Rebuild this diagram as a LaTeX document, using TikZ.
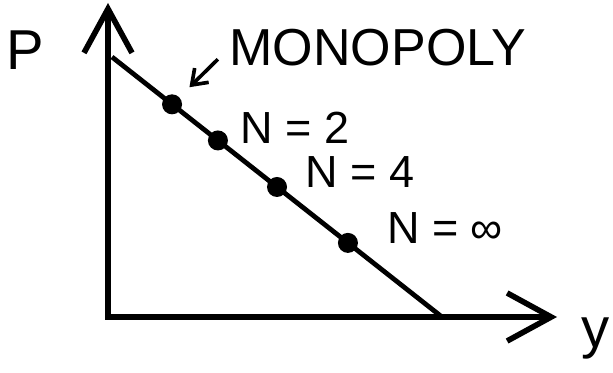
\documentclass[tikz,border=0pt]{standalone}
\usepackage{fontspec}
\setmainfont{Liberation Sans}
\usetikzlibrary{arrows.meta, positioning}

\begin{document}
\begin{tikzpicture}[
            x=0.025cm, y=-0.025cm,
            axis/.style={line width=4pt, line join=miter, {Straight Barb[length=11mm, width=12mm, line width=4pt]}-{Straight Barb[length=11mm, width=12mm, line width=4pt]}},
            demand/.style={line width=3.4pt},
            dot/.style={circle, fill=black, inner sep=0pt, minimum size=0.5cm},
            label/.style={inner sep=0pt, font=\fontsize{32}{36}\selectfont},
            pointer/.style={-{Straight Barb[length=3.5mm, width=5mm]}, line width=2.6pt, shorten <=4mm, shorten >=3mm}
        ]
            \useasboundingbox (0,0) rectangle (613,373);

            % axes
            \coordinate (origin) at (108,317);
            \coordinate (ytop) at (108,3);
            \coordinate (xend) at (557,317);
            \draw[axis] (ytop) -- (origin) -- (xend);
            \node[label, font=\fontsize{40}{44}\selectfont] (plabel) at (25,50) {P};
            \node[label, font=\fontsize{40}{44}\selectfont] (ylabel) at (596,338) {y};

            % demand curve and the firms on it
            \coordinate (dtop) at (112,57);
            \coordinate (dbot) at (442,317);
            \draw[demand] (dtop) -- (dbot)
                node[dot, pos=0.182] (mono) {}
                node[dot, pos=0.321] (two) {}
                node[dot, pos=0.500] (four) {}
                node[dot, pos=0.715] (many) {};

            \node[label, font=\fontsize{37}{40}\selectfont] (monolabel) at (378,48) {MONOPOLY};
            \node[label] (twolabel) at (295,128) {N = 2};
            \node[label] (fourlabel) at (360,172) {N = 4};
            \node[label] (manylabel) at (445,228) {N = ∞};

            \draw[pointer] (monolabel.west) -- (mono);
        \end{tikzpicture}
\end{document}
